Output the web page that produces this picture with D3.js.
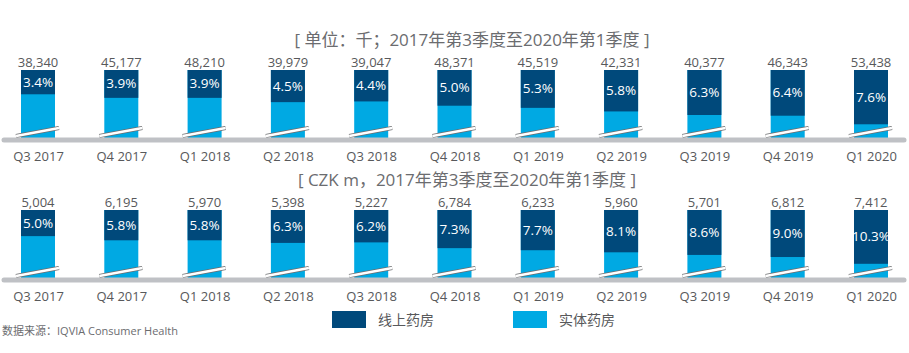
<!DOCTYPE html>
<html>
<head>
<meta charset="utf-8">
<script src="https://cdn.jsdelivr.net/npm/d3@7"></script>
<style>
  body { margin: 0; background: #fff; }
  svg text { font-family: "Open Sans", "Noto Sans CJK SC", sans-serif; }
</style>
</head>
<body>
<svg id="chart" width="909" height="353"></svg>
<script>
// quarters + values
const quarters = ['Q3 2017','Q4 2017','Q1 2018','Q2 2018','Q3 2018','Q4 2018','Q1 2019','Q2 2019','Q3 2019','Q4 2019','Q1 2020'];
const unitTotals = [38340, 45177, 48210, 39979, 39047, 48371, 45519, 42331, 40377, 46343, 53438];
const unitOnlineShare = [3.4, 3.9, 3.9, 4.5, 4.4, 5.0, 5.3, 5.8, 6.3, 6.4, 7.6];
const czkTotals = [5004, 6195, 5970, 5398, 5227, 6784, 6233, 5960, 5701, 6812, 7412];
const czkOnlineShare = [5.0, 5.8, 5.8, 6.3, 6.2, 7.3, 7.7, 8.1, 8.6, 9.0, 10.3];
const titles = ['[ 单位：千；2017年第3季度至2020年第1季度 ]', '[ CZK m，2017年第3季度至2020年第1季度 ]'];
const legendLabels = ['线上药房', '实体药房'];
const source = '数据来源：IQVIA Consumer Health';

const DARK = '#00497b', LIGHT = '#00a9e3', GREY = '#bfc1c5', TXT = '#58595b';
const svg = d3.select('#chart');
const x = d3.scalePoint().domain(quarters).range([38, 871]);
const BW = 34, BH = 70;

// one panel: title, bars with broken axis, labels
function panel(top, totals, share, visible, title, titleX) {
  // visible = how much of the share axis fits in the (broken) bar
  const y = d3.scaleLinear().domain([0, visible]).range([top, top + BH]);
  const base = top + BH;
  const g = svg.append('g');

  g.append('text').attr('x', titleX).attr('y', top - 24).attr('text-anchor', 'middle')
    .attr('font-size', 17).attr('fill', '#6b6c6f').text(title);

  const rows = quarters.map((q, i) => ({q, total: totals[i], pct: share[i]}));
  const bar = g.selectAll('g.bar').data(rows).enter().append('g').attr('class', 'bar');

  bar.append('rect').attr('x', d => x(d.q) - BW/2).attr('y', top)
    .attr('width', BW).attr('height', BH - 2).attr('fill', LIGHT);
  bar.append('rect').attr('x', d => x(d.q) - BW/2).attr('y', top)
    .attr('width', BW).attr('height', d => y(d.pct) - top).attr('fill', DARK);

  // break mark: white band with grey edges
  bar.append('line').attr('x1', d => x(d.q) - BW/2 - 5).attr('y1', base - 4)
    .attr('x2', d => x(d.q) + BW/2 + 4).attr('y2', base - 12)
    .attr('stroke', '#6d6e70').attr('stroke-width', 4.2);
  bar.append('line').attr('x1', d => x(d.q) - BW/2 - 5).attr('y1', base - 4)
    .attr('x2', d => x(d.q) + BW/2 + 4).attr('y2', base - 12)
    .attr('stroke', '#fff').attr('stroke-width', 2.4);

  bar.append('text').attr('x', d => x(d.q)).attr('y', d => (top + y(d.pct)) / 2 + 4.5)
    .attr('text-anchor', 'middle').attr('font-size', 13.5).attr('fill', '#fff')
    .text(d => d.pct.toFixed(1) + '%');
  bar.append('text').attr('x', d => x(d.q)).attr('y', top - 3)
    .attr('text-anchor', 'middle').attr('font-size', 13).attr('fill', TXT)
    .text(d => d3.format(',')(d.total));

  g.append('line').attr('x1', 4).attr('x2', 904).attr('y1', base).attr('y2', base)
    .attr('stroke', GREY).attr('stroke-width', 5).attr('stroke-linecap', 'round');

  g.append('g').attr('transform', `translate(0,${base})`)
    .call(d3.axisBottom(x).tickSize(0).tickPadding(12))
    .call(a => a.select('.domain').remove())
    .selectAll('text').attr('font-size', 13).attr('fill', TXT)
    .attr('font-family', '"Open Sans", "Noto Sans CJK SC", sans-serif');
}

panel(70, unitTotals, unitOnlineShare, 9.8, titles[0], 472);
panel(210, czkTotals, czkOnlineShare, 13.4, titles[1], 467);

// legend
const leg = svg.append('g');
[DARK, LIGHT].forEach((c, i) => {
  const lx = i === 0 ? 332 : 513;
  leg.append('rect').attr('x', lx).attr('y', 311).attr('width', 34).attr('height', 17).attr('fill', c);
  leg.append('text').attr('x', lx + 46).attr('y', 325).attr('font-size', 14).attr('fill', TXT)
    .text(legendLabels[i]);
});

svg.append('text').attr('x', 2).attr('y', 335).attr('font-size', 11).attr('fill', '#6b6c6f').text(source);
</script>
</body>
</html>
